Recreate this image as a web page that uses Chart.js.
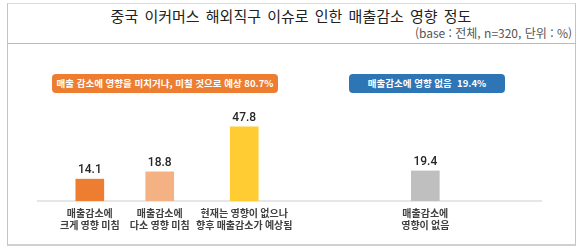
<!DOCTYPE html>
<html lang="ko">
<head>
<meta charset="utf-8">
<script src="https://cdn.jsdelivr.net/npm/chart.js@4/dist/chart.umd.min.js"></script>
<style>
  body { margin: 0; background: #fff; }
  #wrap { position: relative; width: 580px; height: 248px; overflow: hidden; font-family: "Noto Sans CJK KR", sans-serif; }
  #frame { position: absolute; left: 7px; top: 3px; width: 569px; height: 243px; box-sizing: border-box;
           border: 1px solid #c4c4c4; border-top-color: #dcdcdc; border-bottom: 2px solid #d0d0d0; }
  #sep { position: absolute; left: 7px; top: 43px; width: 569px; height: 1px; background: #bcbcbc; }
  #title { position: absolute; left: 0; top: 7px; width: 582px; text-align: center; font-size: 15px; line-height: 18px;
           color: #222; word-spacing: 2px; }
  #sub { position: absolute; right: 8px; top: 26px; font-size: 12px; line-height: 14px; color: #555; }
  .tag { position: absolute; top: 74px; height: 19px; line-height: 19px; border-radius: 4px; color: #fff;
         font-size: 9.5px; font-weight: bold; text-align: center; white-space: nowrap; }
  #tagA { left: 52px; width: 226px; background: #ED7D31; }
  #tagB { left: 349px; width: 156px; background: #2E75B6; }
  canvas { position: absolute; left: 0; top: 0; }
</style>
</head>
<body>
<div id="wrap">
  <div id="frame"></div>
  <div id="sep"></div>
  <div id="title"></div>
  <div id="sub"></div>
  <canvas id="chart" width="580" height="248"></canvas>
  <div class="tag" id="tagA"></div>
  <div class="tag" id="tagB"></div>
</div>
<script>
const chartTitle = '중국 이커머스 해외직구 이슈로 인한 매출감소 영향 정도';
const chartNote = '(base : 전체, n=320, 단위 : %)';
const categories = [
  ['매출감소에', '크게 영향 미침'],
  ['매출감소에', '다소 영향 미침'],
  ['현재는 영향이 없으나', '향후 매출감소가 예상됨'],
  ['매출감소에', '영향이 없음']
];
const values = [14.1, 18.8, 47.8, 19.4];
const groupLabels = ['매출 감소에 영향을 미치거나, 미칠 것으로 예상 80.7%', '매출감소에 영향 없음\u00a0 19.4%'];

const barColors = ['#ED7D31', '#F4B183', '#FFCC33', '#BFBFBF'];
// where each bar sits along the x axis (0-100), the groups are not evenly spaced
const slotPos = [10.3, 24.2, 41, 77];

document.getElementById('title').textContent = chartTitle;
document.getElementById('sub').textContent = chartNote;
document.getElementById('tagA').textContent = groupLabels[0];
document.getElementById('tagB').textContent = groupLabels[1];

// value labels above the bars
const valueLabels = {
  id: 'valueLabels',
  afterDatasetsDraw(chart) {
    const ctx = chart.ctx;
    const meta = chart.getDatasetMeta(0);
    ctx.save();
    ctx.font = '500 12px Roboto, "Liberation Sans", sans-serif';
    ctx.fillStyle = '#262626';
    ctx.textAlign = 'center';
    ctx.textBaseline = 'alphabetic';
    meta.data.forEach((bar, i) => {
      ctx.fillText(values[i].toFixed(1), bar.x, bar.y - 6);
    });
    ctx.restore();
  }
};

new Chart(document.getElementById('chart'), {
  type: 'bar',
  data: {
    datasets: [{
      data: values.map((v, i) => ({ x: slotPos[i], y: v })),
      backgroundColor: barColors,
      barThickness: 28,
      borderWidth: 0
    }]
  },
  options: {
    responsive: false,
    animation: false,
    events: [],
    layout: { padding: { left: 38, right: 39, top: 108, bottom: 11 } },
    plugins: { legend: { display: false }, tooltip: { enabled: false } },
    scales: {
      x: {
        type: 'linear',
        min: 0,
        max: 100,
        offset: false,
        afterBuildTicks: axis => { axis.ticks = slotPos.map(v => ({ value: v })); },
        ticks: {
          autoSkip: false,
          maxRotation: 0,
          padding: 6,
          color: '#404040',
          font: { family: '"Noto Sans CJK KR", sans-serif', size: 10, weight: 'bold', lineHeight: 1.2 },
          callback: (v, i) => categories[i]
        },
        grid: { display: false, drawTicks: false },
        border: { display: true, color: '#e6e6e6', width: 2 }
      },
      y: { display: false, min: 0, max: 60 }
    }
  },
  plugins: [valueLabels]
});
</script>
</body>
</html>
